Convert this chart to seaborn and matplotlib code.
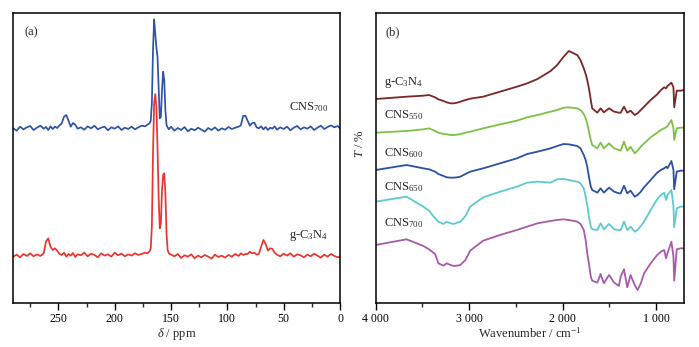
import pandas as pd
import matplotlib
matplotlib.use("Agg")
import matplotlib.pyplot as plt
import seaborn as sns

# ---- (a) 13C NMR spectra, intensity in arbitrary units ----
nmr_ppm = [290, 287, 284, 281, 278, 275, 272, 269, 266, 263,
           261, 259, 257, 255, 253, 251, 249, 247, 245, 243,
           241, 239, 237, 235, 233, 230, 227, 224, 221, 218,
           215, 212, 209, 206, 203, 200, 197, 194, 191, 188,
           185, 182, 179, 176, 173, 171, 169, 168, 167, 166,
           165, 164, 163, 162, 161, 160, 159, 158, 157, 156,
           155, 154, 153, 152, 150, 147, 144, 141, 138, 135,
           132, 129, 126, 123, 120, 117, 114, 111, 108, 105,
           102, 99, 96, 93, 90, 88, 86, 84, 82, 80,
           78, 76, 74, 72, 70, 68, 66, 64, 62, 60,
           58, 56, 53, 50, 47, 44, 41, 38, 35, 32,
           29, 26, 23, 20, 17, 14, 11, 8, 5, 2,
           0]
nmr_cns700 = [525, 518, 530, 522, 528, 532, 520, 527, 533, 524,
              529, 520, 531, 523, 530, 526, 534, 540, 560, 565,
              548, 530, 541, 536, 524, 528, 521, 531, 525, 533,
              522, 527, 530, 519, 528, 524, 531, 520, 527, 523,
              530, 522, 528, 533, 531, 536, 540, 548, 600, 760,
              852, 810, 768, 740, 650, 555, 560, 640, 695, 670,
              580, 535, 528, 522, 530, 518, 526, 520, 529, 516,
              524, 519, 527, 521, 515, 526, 520, 528, 518, 525,
              521, 529, 523, 527, 530, 534, 562, 563, 548, 533,
              541, 542, 528, 525, 531, 522, 529, 520, 527, 524,
              531, 521, 528, 523, 530, 519, 527, 532, 522, 528,
              524, 531, 520, 527, 533, 523, 529, 534, 528, 532,
              525]
nmr_gcn = [140, 146, 138, 148, 142, 150, 141, 147, 142, 150,
           185, 195, 170, 160, 165, 158, 148, 145, 152, 140,
           148, 143, 151, 139, 147, 144, 152, 141, 149, 145,
           138, 150, 143, 147, 140, 152, 144, 149, 141, 147,
           143, 150, 145, 148, 152, 150, 156, 165, 230, 450,
           600, 628, 590, 470, 320, 225, 240, 340, 385, 390,
           330, 210, 160, 150, 146, 141, 148, 136, 144, 140,
           147, 135, 143, 138, 145, 140, 134, 146, 139, 143,
           137, 145, 140, 148, 142, 150, 145, 148, 148, 155,
           150, 152, 146, 148, 170, 190, 178, 158, 165, 163,
           152, 146, 141, 149, 143, 150, 140, 147, 144, 138,
           146, 141, 149, 143, 137, 146, 140, 148, 142, 138,
           140]
nmr_ticks = [250, 200, 150, 100, 50, 0]
nmr_minor = [275, 225, 175, 125, 75, 25]

# ---- (b) FTIR spectra, transmittance in arbitrary units ----
ir_wn = [4000, 3670, 3490, 3430, 3365, 3330, 3275, 3240, 3200, 3165,
         3130, 3095, 3040, 2990, 2850, 2670, 2490, 2380, 2270, 2130,
         2060, 1990, 1935, 1845, 1810, 1775, 1755, 1738, 1720, 1700,
         1685, 1630, 1595, 1560, 1505, 1450, 1400, 1380, 1345, 1310,
         1275, 1230, 1200, 1165, 1130, 1060, 990, 950, 915, 895,
         880, 838, 816, 808, 781, 740, 700]
ir_gcn = [613, 620, 623, 625, 618, 612, 607, 603, 600, 600,
          602, 605, 610, 614, 620, 635, 650, 660, 673, 697,
          715, 740, 757, 745, 730, 705, 688, 670, 645, 610,
          585, 572, 585, 573, 585, 575, 572, 572, 590, 572,
          578, 565, 570, 580, 590, 610, 627, 640, 648, 645,
          652, 662, 648, 588, 638, 638, 640]
ir_cns550 = [512, 517, 522, 525, 517, 512, 508, 507, 505, 505,
             506, 508, 512, 515, 525, 537, 548, 558, 565, 575,
             580, 587, 588, 585, 580, 568, 555, 540, 515, 490,
             475, 465, 482, 465, 480, 465, 460, 458, 485, 458,
             470, 450, 458, 470, 480, 498, 512, 520, 525, 528,
             532, 550, 525, 490, 525, 527, 527]
ir_cns600 = [400, 415, 405, 402, 395, 388, 382, 378, 377, 377,
             378, 380, 388, 395, 405, 420, 435, 448, 455, 465,
             472, 478, 477, 472, 465, 445, 430, 410, 380, 350,
             340, 332, 345, 332, 347, 335, 330, 330, 353, 330,
             338, 320, 325, 335, 348, 370, 392, 400, 405, 410,
             405, 427, 400, 342, 395, 398, 398]
ir_cns650 = [305, 320, 290, 278, 255, 245, 238, 245, 240, 238,
             242, 245, 262, 290, 318, 335, 350, 362, 365, 362,
             372, 373, 370, 365, 360, 345, 320, 295, 260, 230,
             222, 220, 240, 222, 238, 222, 220, 220, 245, 220,
             230, 215, 220, 232, 245, 280, 312, 325, 332, 310,
             325, 340, 292, 228, 285, 290, 290]
ir_cns700 = [175, 192, 172, 162, 148, 120, 113, 120, 115, 112,
             113, 115, 130, 158, 188, 205, 220, 230, 240, 247,
             250, 252, 250, 245, 238, 220, 190, 150, 120, 80,
             68, 62, 88, 60, 85, 62, 52, 80, 102, 48,
             85, 55, 40, 60, 90, 120, 145, 155, 160, 135,
             150, 185, 140, 68, 162, 165, 165]
ir_ticks = [4000, 3000, 2000, 1000]
ir_tick_labels = ["4 000", "3 000", "2 000", "1 000"]
ir_minor = [3500, 2500, 1500]

ir_names = ["g-C$_3$N$_4$", "CNS$_{550}$", "CNS$_{600}$", "CNS$_{650}$", "CNS$_{700}$"]
ir_series = [ir_gcn, ir_cns550, ir_cns600, ir_cns650, ir_cns700]
ir_colors = ["#7a2626", "#7cc146", "#2a51a2", "#5ccad0", "#a85aaa"]
ir_label_y = [655, 555, 442, 340, 230]

sns.set_theme(style="ticks")
plt.rcParams["font.family"] = ["Liberation Serif", "DejaVu Serif"]
plt.rcParams["mathtext.fontset"] = "custom"
plt.rcParams["mathtext.rm"] = "Liberation Serif"
plt.rcParams["mathtext.it"] = "Liberation Serif:italic"
plt.rcParams["axes.edgecolor"] = "black"
plt.rcParams["axes.linewidth"] = 1.1

fig = plt.figure(figsize=(6.99, 3.47), dpi=100)
W, H = 699, 347
bottom = 1 - 303.3 / H
height = (303.3 - 12.7) / H
ax1 = fig.add_axes([13.3 / W, bottom, (340 - 13.3) / W, height])
ax2 = fig.add_axes([375.7 / W, bottom, (684.3 - 375.7) / W, height])

FS = 9

nmr = pd.DataFrame({"ppm": nmr_ppm, "CNS700": nmr_cns700, "gCN": nmr_gcn})
sns.lineplot(data=nmr, x="ppm", y="CNS700", ax=ax1, color="#2d55a6", lw=1.25)
sns.lineplot(data=nmr, x="ppm", y="gCN", ax=ax1, color="#e8352f", lw=1.25)
ax1.set_xlim(290, 0)
ax1.set_ylim(0, 872)
ax1.set_xticks(nmr_ticks)
ax1.set_xticks(nmr_minor, minor=True)
ax1.set_xlabel(r"$\delta$ / ppm", fontsize=FS, labelpad=1)
ax1.set_ylabel("")
ax1.text(280, 812, "(a)", fontsize=FS, va="center")
ax1.text(45, 580, "CNS$_{700}$", fontsize=FS, va="baseline")
ax1.text(45, 195, "g-C$_3$N$_4$", fontsize=FS, va="baseline")

ir = pd.DataFrame({"wn": ir_wn})
for name, vals, col, ly in zip(ir_names, ir_series, ir_colors, ir_label_y):
    ir["T"] = vals
    sns.lineplot(data=ir, x="wn", y="T", ax=ax2, color=col, lw=1.3)
    ax2.text(3910, ly, name, fontsize=FS, va="baseline")
ax2.set_xlim(4000, 700)
ax2.set_ylim(0, 872)
ax2.set_xticks(ir_ticks)
ax2.set_xticklabels(ir_tick_labels)
ax2.set_xticks(ir_minor, minor=True)
ax2.set_xlabel("Wavenumber / cm$^{-1}$", fontsize=FS, labelpad=1)
ax2.set_ylabel("$T$ / %", fontsize=FS)
ax2.yaxis.set_label_coords(-0.03, 0.55)
ax2.text(3900, 812, "(b)", fontsize=FS, va="center")

for ax in (ax1, ax2):
    ax.set_yticks([])
    ax.tick_params(axis="x", which="major", direction="out", length=5, width=1,
                   labelsize=8.5, pad=2, colors="black")
    ax.tick_params(axis="x", which="minor", direction="out", length=3, width=1)
    for s in ax.spines.values():
        s.set_visible(True)
        s.set_color("black")

fig.savefig("out.png", dpi=100, facecolor="white")
